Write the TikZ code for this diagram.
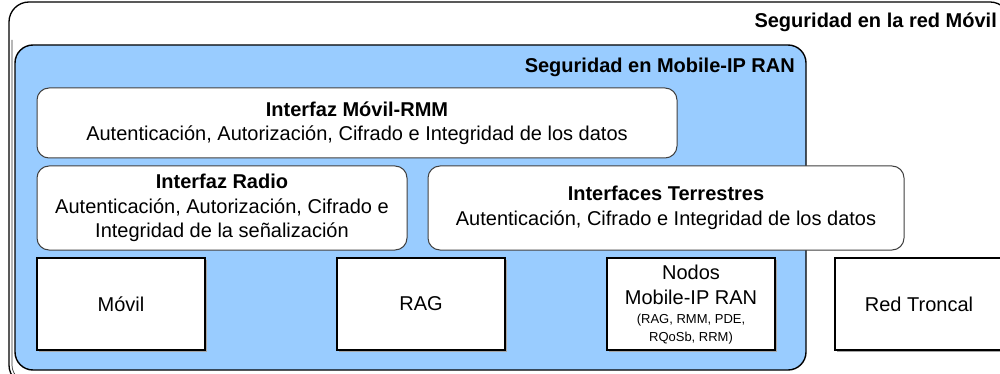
\documentclass[tikz,border=0pt]{standalone}
\usepackage{fontspec}
\setmainfont{Liberation Sans}
\begin{document}
\begin{tikzpicture}[x=1pt,y=-1pt,
  txt/.style={font=\fontsize{20}{24.5}\selectfont},
  ibox/.style={draw=black!75, line width=1pt, fill=white, rounded corners=12pt,
    inner sep=0pt, align=center, txt},
  rbox/.style={draw=black, line width=1.3pt, fill=white, inner sep=0pt,
    align=center, txt},
  title/.style={font=\bfseries\fontsize{20}{22}\selectfont, anchor=east, inner sep=0pt}]
\useasboundingbox (0,0) rectangle (1000,374);
\begin{scope}
\clip (0,0) rectangle (1000,374);
% outer frame
\draw[line width=1.3pt, rounded corners=20pt] (9,2) rectangle (1010,385);
\draw[line width=0.7pt, black!80, rounded corners=17pt] (12,40) -- (12,382) -- (1007,382);
\node[title] (t1) at (997,22) {Seguridad en la red Móvil};
% blue panel
\draw[line width=1.4pt, fill={rgb,255:red,153;green,204;blue,255}, rounded corners=18pt] (15,45) rectangle (806,370);
\node[title] (t2) at (795,67) {Seguridad en Mobile-IP RAN};
% rounded boxes
\node[ibox, minimum width=640pt, minimum height=70pt] (b1) at (357,123)
  {\textbf{Interfaz Móvil-RMM}\\Autenticación, Autorización, Cifrado e Integridad de los datos};
\node[ibox, minimum width=370pt, minimum height=84pt] (b2) at (222,208)
  {\textbf{Interfaz Radio}\\Autenticación, Autorización, Cifrado e\\Integridad de la señalización};
\node[ibox, minimum width=476pt, minimum height=84pt] (b3) at (666,208)
  {\textbf{Interfaces Terrestres}\\Autenticación, Cifrado e Integridad de los datos};
% square boxes with shadow
\foreach \cx in {121,421,691,919}{
  \fill[black!35] (\cx-84+2,258+2) rectangle (\cx+84+2,350+2);
}
\node[rbox, minimum width=168pt, minimum height=92pt] (m) at (121,304) {Móvil};
\node[rbox, minimum width=168pt, minimum height=92pt] (r) at (421,304) {RAG};
\node[rbox, minimum width=168pt, minimum height=92pt] (n) at (691,304) {};
\node[txt, align=center, inner sep=0pt] (nt) at (691,285) {Nodos\\Mobile-IP RAN};
\node[align=center, inner sep=0pt, font=\fontsize{13}{18}\selectfont] (ns) at (691,329) {(RAG, RMM, PDE,\\RQoSb, RRM)};
\node[rbox, minimum width=168pt, minimum height=92pt] (rt) at (919,304) {Red Troncal};
\end{scope}
\end{tikzpicture}
\end{document}
